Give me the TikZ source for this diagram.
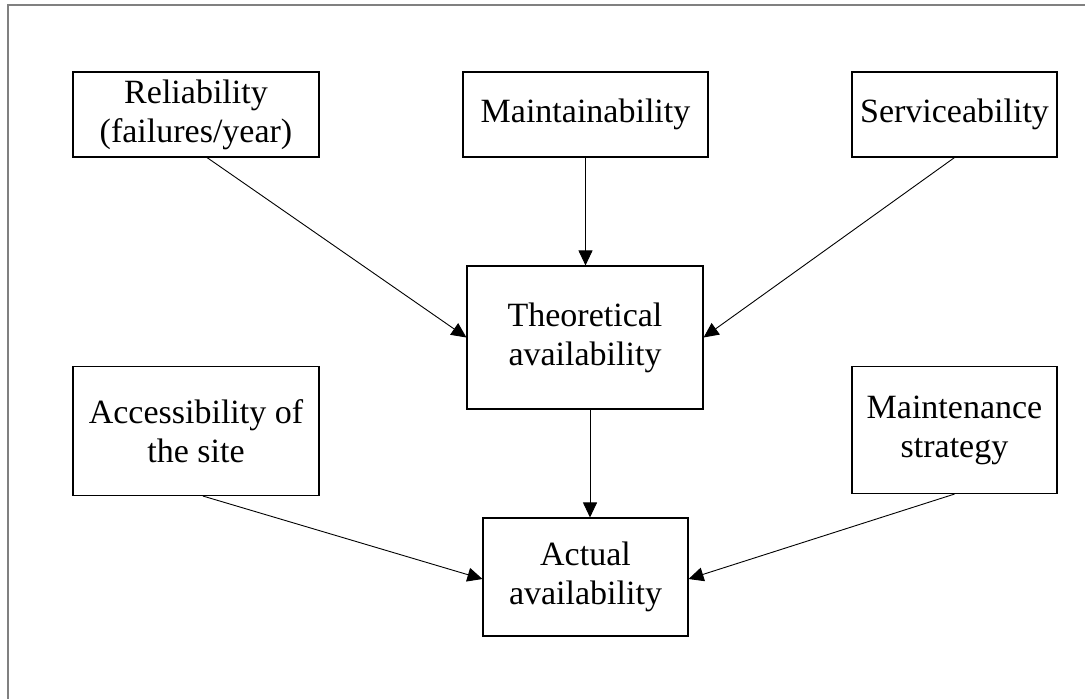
\documentclass[tikz,border=0pt]{standalone}
\usepackage{fontspec}
\setmainfont{Liberation Serif}
\usetikzlibrary{arrows.meta}
\tikzset{
  box/.style={draw=black, line width=1.1pt, fill=white, align=center, inner sep=0pt,
    font=\fontsize{34}{39}\selectfont},
  arr/.style={draw=black, line width=0.9pt, -{Triangle[length=15pt,width=14pt]}},
  frame/.style={draw=black!50, line width=2pt}
}
\begin{document}
\begin{tikzpicture}[x=1pt,y=-1pt]
\useasboundingbox (0,0) rectangle (1091,699);
\coordinate (f1) at (8,699);
\coordinate (f2) at (8,5);
\coordinate (f3) at (1085,5);
\draw[frame] (f1) -- (f2) -- (f3);

\node[box, minimum width=246pt, minimum height=85pt] (rel) at (196,114.5) {Reliability\\(failures/year)};
\node[box, minimum width=245pt, minimum height=85pt] (mnt) at (585.5,114.5) {Maintainability};
\node[box, minimum width=205pt, minimum height=85pt] (srv) at (954.5,114.5) {Serviceability};
\node[box, minimum width=236pt, minimum height=143pt] (theo) at (585,337.5) {Theoretical\\availability};
\node[box, minimum width=246pt, minimum height=129pt] (acc) at (196,431) {Accessibility of\\the site};
\node[box, minimum width=205pt, minimum height=127pt] (mstr) at (954.5,430) {Maintenance\\strategy};
\node[box, minimum width=205pt, minimum height=118pt] (act) at (585.5,577) {Actual\\availability};

\draw[arr] ([xshift=11pt]rel.south) -- (theo.west);
\draw[arr] (mnt.south) -- (mnt.south |- theo.north);
\draw[arr] (srv.south) -- (theo.east);
\draw[arr] ([xshift=5pt]theo.south) -- ([xshift=5pt]theo.south |- act.north);
\draw[arr] ([xshift=7pt]acc.south) -- ([yshift=-2pt]act.west);
\draw[arr] (mstr.south) -- ([yshift=-2pt]act.east);
\end{tikzpicture}
\end{document}
